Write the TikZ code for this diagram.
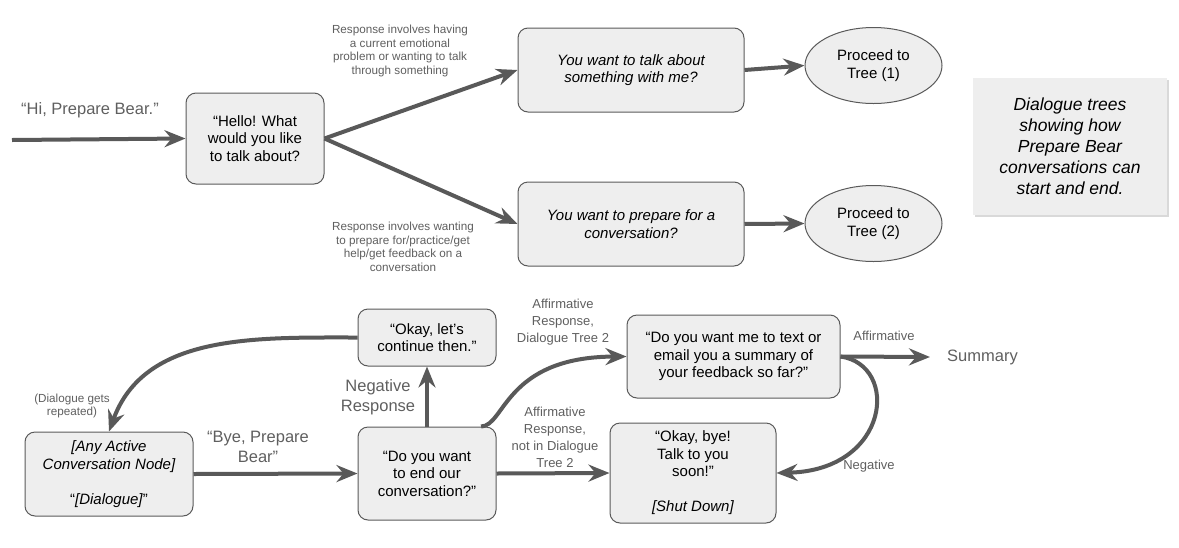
\documentclass[tikz,border=0pt]{standalone}
\usepackage{fontspec}
\setmainfont{Liberation Sans}
\usetikzlibrary{arrows.meta,shapes.geometric,shadows}
\definecolor{boxfill}{HTML}{EEEEEE}
\definecolor{boxline}{HTML}{5A5A5A}
\definecolor{flowgray}{HTML}{595959}
\definecolor{labelgray}{HTML}{5F5F5F}
\tikzset{
  dbox/.style={draw=boxline, line width=1pt, fill=boxfill, rounded corners=10pt, align=center,
    inner sep=0pt, font=\fontsize{15}{17.5}\selectfont},
  oval/.style={ellipse, draw=boxline, line width=1pt, fill=boxfill, align=center, inner sep=0pt,
    minimum width=137, minimum height=76, font=\fontsize{15}{17.5}\selectfont},
  flow/.style={draw=flowgray, line width=4pt,
    -{Stealth[length=21pt, width=17pt, inset=7pt]}},
  biglabel/.style={text=labelgray, align=center, font=\fontsize{16.5}{20}\selectfont},
  smalllabel/.style={text=labelgray, align=center, font=\fontsize{11.7}{13.5}\selectfont},
  edgelabel/.style={text=labelgray, align=center, font=\fontsize{13}{17}\selectfont}
}

\begin{document}
\begin{tikzpicture}[x=1pt, y=-1pt]
    \useasboundingbox (0,0) rectangle (1179,547);

    % opening tree
    \coordinate (start) at (12,140);
    \node[dbox, minimum width=138, minimum height=91] (hello) at (255,138.5)
        {“Hello! What\\would you like\\to talk about?};
    \node[dbox, minimum width=226, minimum height=84] (talk) at (631,70)
        {\itshape You want to talk about\\\itshape something with me?};
    \node[dbox, minimum width=226, minimum height=84] (prep) at (631,224)
        {\itshape You want to prepare for a\\\itshape conversation?};
    \node[oval] (tree1) at (873.5,65.5) {Proceed to\\Tree (1)};
    \node[oval] (tree2) at (873.5,223.5) {Proceed to\\Tree (2)};
    \node[fill=boxfill, drop shadow={opacity=0.3, shadow xshift=1.5pt, shadow yshift=-2pt},
        minimum width=194, minimum height=137, inner sep=0pt, align=center,
        font=\fontsize{17.5}{21}\selectfont\itshape] (note) at (1070,146.5)
        {Dialogue trees\\showing how\\Prepare Bear\\conversations can\\start and end.};

    \draw[flow] (start) -- (hello.west);
    \draw[flow] (hello.east) -- (talk.west);
    \draw[flow] (hello.east) -- (prep.west);
    \draw[flow] (talk.east) -- (tree1.west);
    \draw[flow] (prep.east) -- (tree2.west);

    \node[biglabel] at (90,110) {“Hi, Prepare Bear.”};
    \node[smalllabel] at (400,51) {Response involves having\\a current emotional\\problem or wanting to talk\\through something};
    \node[smalllabel] at (403,247) {Response involves wanting\\to prepare for/practice/get\\help/get feedback on a\\conversation};

    % closing tree
    \node[dbox, minimum width=168, minimum height=84] (anynode) at (109,474)
        {\itshape [Any Active\\\itshape Conversation Node]\\[17.5pt]“\textit{[Dialogue]}”};
    \node[dbox, minimum width=138, minimum height=93] (endq) at (427,473.5)
        {“Do you want\\to end our\\conversation?”};
    \node[dbox, minimum width=138, minimum height=57] (cont) at (427,337.5)
        {“Okay, let’s\\continue then.”};
    \node[dbox, minimum width=213, minimum height=83] (textq) at (733.5,356.5)
        {“Do you want me to text or\\email you a summary of\\your feedback so far?”};
    \node[dbox, minimum width=166, minimum height=100] (bye) at (693,473)
        {“Okay, bye!\\Talk to you\\soon!”\\[17.5pt]\textit{[Shut Down]}};
    \node[biglabel, inner sep=2pt, anchor=west] (summary) at (945,357) {Summary};

    \draw[flow] (anynode.east) -- (endq.west);
    \draw[flow] (endq.north) -- (cont.south);
    \draw[flow] (cont.west) to[out=180, in=70] (anynode.north);
    \draw[flow] (endq.41) .. controls (505,426) and (505,357) .. (textq.west);
    \draw[flow] (endq.east) -- (bye.west);
    \draw[flow] (textq.east) -- ([xshift=-15pt]summary.west);
    \draw[flow] (textq.east) .. controls (900,365) and (890,470) .. (bye.east);

    \node[biglabel] at (258,447) {“Bye, Prepare\\Bear”};
    \node[biglabel] at (378,397) {Negative\\Response};
    \node[smalllabel] at (72,406) {(Dialogue gets\\repeated)};
    \node[edgelabel] at (563,322) {Affirmative\\Response,\\Dialogue Tree 2};
    \node[edgelabel] at (555,437) {Affirmative\\Response,\\not in Dialogue\\Tree 2};
    \node[edgelabel] at (884,336) {Affirmative};
    \node[edgelabel] at (869,466) {Negative};
\end{tikzpicture}
\end{document}
